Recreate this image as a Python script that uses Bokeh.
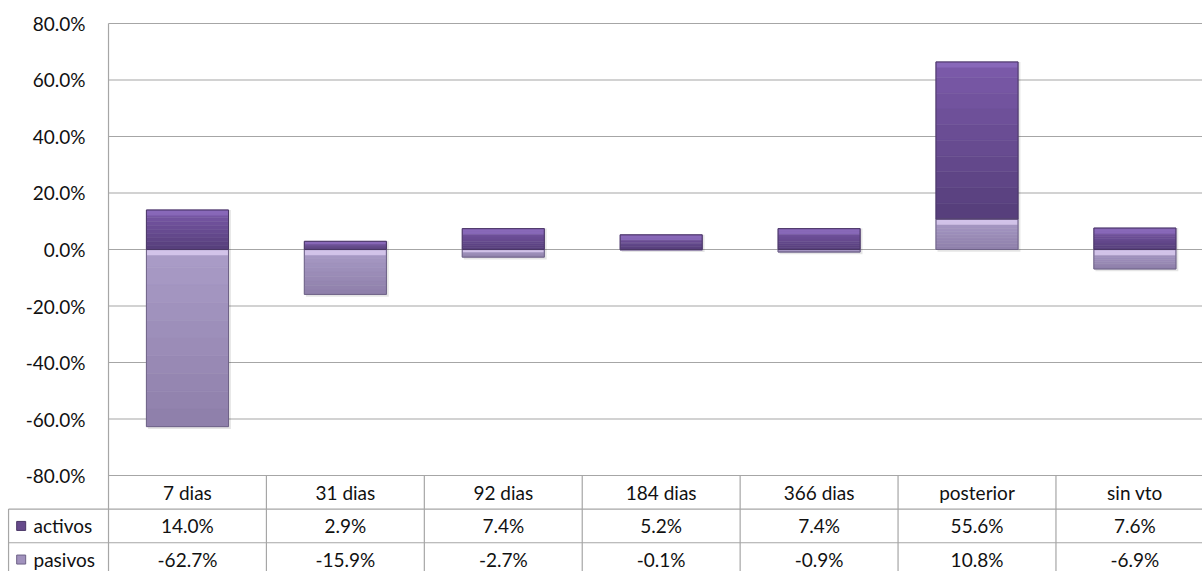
from bokeh.plotting import figure
from bokeh.models import Range1d
from bokeh.core.properties import value
from bokeh.embed import file_html
from bokeh.resources import INLINE

# ---- data ----
categories = ["7 dias", "31 dias", "92 dias", "184 dias", "366 dias", "posterior", "sin vto"]
activos = [14.0, 2.9, 7.4, 5.2, 7.4, 55.6, 7.6]
pasivos = [-62.7, -15.9, -2.7, -0.1, -0.9, 10.8, -6.9]
series_names = ["activos", "pasivos"]
y_ticks = [-80, -60, -40, -20, 0, 20, 40, 60, 80]

# ---- styling / layout constants ----
FONT = value("Lato")
FS = "19px"
TXT = "#111111"
GRID = "#a6a6a6"
ACT_FILL, ACT_TOP, ACT_LINE = "#664a8b", "#8c6cbd", "#4a3766"
PAS_FILL, PAS_TOP, PAS_LINE = "#a192bd", "#dccdf1", "#6e6287"
ACT_GRAD = ((0x7a, 0x59, 0xa8), (0x57, 0x3f, 0x7c))
PAS_GRAD = ((0xa9, 0x9b, 0xc6), (0x8f, 0x80, 0xab))
BAR_HALF = 0.26
ROW_H = 11.9
Y_MIN, Y_MAX = -80, 80
LEG_LEFT = -0.633
NB = 10

n = len(categories)
xc = [i + 0.5 for i in range(n)]

p = figure(width=1202, height=571,
           x_range=Range1d(-0.684, 6.928), y_range=Range1d(-113.98, 88.14),
           x_axis_location=None, y_axis_location=None,
           output_backend="svg", toolbar_location=None, min_border=0)
p.grid.visible = False
p.outline_line_color = None
p.background_fill_color = "white"
p.border_fill_color = "white"

# gridlines
p.segment(x0=[0] * len(y_ticks), x1=[n] * len(y_ticks), y0=y_ticks, y1=y_ticks,
          line_color=GRID, line_width=1.2)

# y tick labels
p.text(x=[-0.1457] * len(y_ticks), y=y_ticks, text=[f"{t:.1f}%" for t in y_ticks],
       text_align="right", text_baseline="middle", text_font=FONT,
       text_font_size=FS, text_color=TXT)

# bars: pasivos segment from 0 to value; activos stacked on positive pasivos
pas_bottom = [min(0, v) for v in pasivos]
pas_top = [max(0, v) for v in pasivos]
act_bottom = [max(0, v) for v in pasivos]
act_top = [b + a for b, a in zip(act_bottom, activos)]

left = [x - BAR_HALF for x in xc]
right = [x + BAR_HALF for x in xc]

# shadows
p.quad(left=[l + 0.01 for l in left], right=[r + 0.015 for r in right],
       bottom=[min(pb, ab) - 0.8 for pb, ab in zip(pas_bottom, act_bottom)],
       top=act_top, fill_color="#000000", fill_alpha=0.10, line_color=None)


def gradient(bottoms, tops, grad):
    (r0, g0, b0), (r1, g1, b1) = grad
    L, R, B, T, C = [], [], [], [], []
    for l, r, b, t in zip(left, right, bottoms, tops):
        h = (t - b) / NB
        for j in range(NB):
            f = j / (NB - 1)
            L.append(l); R.append(r)
            T.append(t - j * h); B.append(t - (j + 1) * h)
            C.append("#%02x%02x%02x" % (round(r0 + (r1 - r0) * f),
                                        round(g0 + (g1 - g0) * f),
                                        round(b0 + (b1 - b0) * f)))
    p.quad(left=L, right=R, bottom=B, top=T, fill_color=C, line_color=C, line_width=0.5)


gradient(pas_bottom, pas_top, PAS_GRAD)
gradient(act_bottom, act_top, ACT_GRAD)


def strip(top, bottom):
    h = [min(2.0, abs(t - b) * 0.35) for t, b in zip(top, bottom)]
    return [t - hh for t, hh in zip(top, h)]


# bevel highlights along top edge of each segment
p.quad(left=[l + 0.004 for l in left], right=[r - 0.004 for r in right],
       bottom=strip(act_top, act_bottom), top=[t - 0.25 for t in act_top],
       fill_color=ACT_TOP, fill_alpha=0.8, line_color=None)
p.quad(left=[l + 0.004 for l in left], right=[r - 0.004 for r in right],
       bottom=strip(pas_top, pas_bottom), top=[t - 0.25 for t in pas_top],
       fill_color=PAS_TOP, fill_alpha=0.8, line_color=None)

# outlines
p.quad(left=left, right=right, bottom=pas_bottom, top=pas_top,
       fill_color=None, line_color=PAS_LINE, line_width=1)
p.quad(left=left, right=right, bottom=act_bottom, top=act_top,
       fill_color=None, line_color=ACT_LINE, line_width=1)

# ---- data table ----
hdr_b = Y_MIN - ROW_H
act_b = hdr_b - ROW_H
pas_b = act_b - ROW_H
p.segment(x0=[LEG_LEFT, LEG_LEFT], x1=[n, n], y0=[hdr_b, act_b], y1=[hdr_b, act_b],
          line_color=GRID, line_width=1.2)
p.segment(x0=[0], x1=[0], y0=[Y_MAX], y1=[pas_b], line_color=GRID, line_width=1.2)
p.segment(x0=list(range(1, n + 1)), x1=list(range(1, n + 1)),
          y0=[Y_MIN] * n, y1=[pas_b] * n, line_color=GRID, line_width=1.2)
p.segment(x0=[LEG_LEFT], x1=[LEG_LEFT], y0=[hdr_b], y1=[pas_b], line_color=GRID, line_width=1.2)

p.text(x=xc, y=[(Y_MIN + hdr_b) / 2] * n, text=categories, text_align="center",
       text_baseline="middle", text_font=FONT, text_font_size=FS, text_color=TXT)
p.text(x=xc, y=[(hdr_b + act_b) / 2] * n, text=[f"{v:.1f}%" for v in activos],
       text_align="center", text_baseline="middle", text_font=FONT,
       text_font_size=FS, text_color=TXT)
p.text(x=xc, y=[(act_b + pas_b) / 2] * n, text=[f"{v:.1f}%" for v in pasivos],
       text_align="center", text_baseline="middle", text_font=FONT,
       text_font_size=FS, text_color=TXT)

# legend keys
ly = [(hdr_b + act_b) / 2, (act_b + pas_b) / 2]
p.scatter(x=[-0.553, -0.553], y=ly, marker="square", size=9,
          fill_color=[ACT_FILL, PAS_FILL], line_color=[ACT_LINE, PAS_LINE])
p.text(x=[-0.475, -0.475], y=ly, text=series_names, text_align="left",
       text_baseline="middle", text_font=FONT, text_font_size=FS, text_color=TXT)

open("out.html", "w").write(file_html(p, INLINE))
